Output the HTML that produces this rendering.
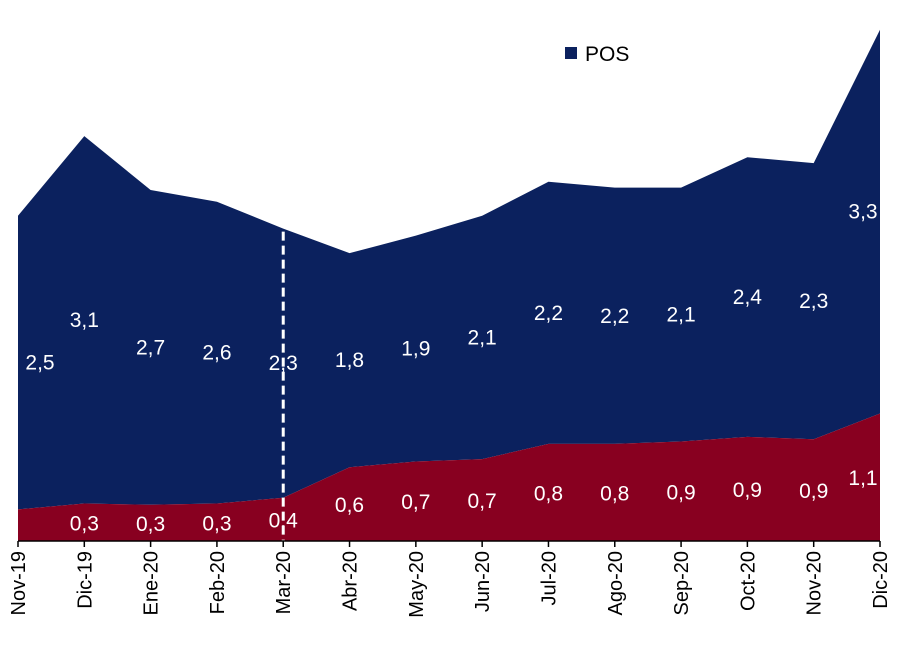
<!DOCTYPE html>
<html><head><meta charset="utf-8">
<style>
html,body{margin:0;padding:0;background:#fff;}
svg{display:block;font-family:"Liberation Sans",Arial,sans-serif;}
</style></head>
<body>
<svg id="chart" width="908" height="658" viewBox="0 0 908 658"></svg>
<script>
const categories=["Nov-19","Dic-19","Ene-20","Feb-20","Mar-20","Abr-20","May-20","Jun-20","Jul-20","Ago-20","Sep-20","Oct-20","Nov-20","Dic-20"];
const redValues=[0.27,0.32,0.31,0.32,0.37,0.63,0.68,0.70,0.83,0.83,0.85,0.89,0.87,1.09];
const blueValues=[2.51,3.14,2.69,2.58,2.30,1.83,1.93,2.08,2.24,2.19,2.17,2.39,2.36,3.28];
const redLabels=["","0,3","0,3","0,3","0,4","0,6","0,7","0,7","0,8","0,8","0,9","0,9","0,9","1,1"];
const blueLabels=["2,5","3,1","2,7","2,6","2,3","1,8","1,9","2,1","2,2","2,2","2,1","2,4","2,3","3,3"];
const NS="http://www.w3.org/2000/svg";
const svg=document.getElementById('chart');
const x0=18,x1=880,base=541,scale=117;
function xs(i){return x0+(x1-x0)*i/(categories.length-1);}
function ys(v){return base-v*scale;}
function mk(t,a){const e=document.createElementNS(NS,t);for(const k in a)e.setAttribute(k,a[k]);svg.appendChild(e);return e;}
let d="M"+xs(0)+","+ys(redValues[0]);
categories.forEach((c,i)=>{d+=" L"+xs(i)+","+ys(redValues[i]+blueValues[i]);});
for(let i=categories.length-1;i>=0;i--)d+=" L"+xs(i)+","+ys(redValues[i]);
const blue=mk('path',{d:d+"Z",fill:"#0b215e"});


let r="M"+xs(0)+","+base;
categories.forEach((c,i)=>{r+=" L"+xs(i)+","+ys(redValues[i]);});
r+=" L"+xs(categories.length-1)+","+base+"Z";
const red=mk('path',{d:r,fill:"#880020"});


const dl=mk('line',{x1:xs(4),x2:xs(4),y1:ys(redValues[4]+blueValues[4])+3,y2:base,stroke:"#fff","stroke-width":3,"stroke-dasharray":"9,5"});


const ax=mk('line',{x1:x0,x2:x1,y1:base,y2:base,stroke:"#000","stroke-width":1.5});


categories.forEach((c,i)=>{
  const x=xs(i);
  const tk=mk('line',{x1:x,x2:x,y1:base,y2:base+6,stroke:"#000","stroke-width":1.5});
  
  
  const t=mk('text',{x:0,y:0,"font-size":20,fill:"#000","text-anchor":"end",transform:`translate(${x+7},${base+10}) rotate(-90)`});
  t.textContent=c;
  
  
  let lx=x; if(i===0)lx=x+22; if(i===categories.length-1)lx=x-17;
  const top=ys(redValues[i]+blueValues[i]),mid=ys(redValues[i]);
  let by=(top+mid)/2+7; if(i===categories.length-1)by-=10;
  const bl=mk('text',{x:lx,y:by,"font-size":21,fill:"#fff","text-anchor":"middle"});
  bl.textContent=blueLabels[i];
  
  
  if(redLabels[i]){
    const rl=mk('text',{x:lx,y:(mid+base)/2+8,"font-size":21,fill:"#fff","text-anchor":"middle"});
    rl.textContent=redLabels[i];
    
    
  }
});
const ls=mk('rect',{x:565,y:47,width:12,height:12,fill:"#0b215e"});


const lt=mk('text',{x:585,y:61,"font-size":21,fill:"#000"});
lt.textContent="POS";


</script>
</body></html>
